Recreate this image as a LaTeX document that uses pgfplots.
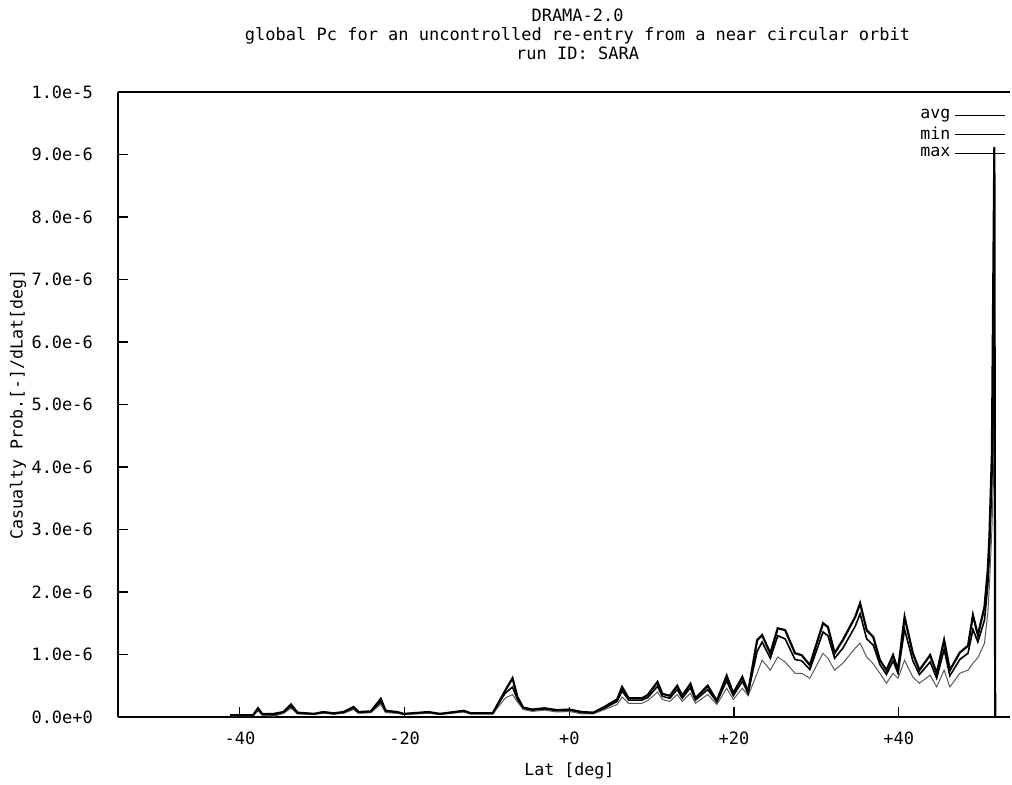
\documentclass[border=0pt]{standalone}
\usepackage{fontspec}
\setmainfont{DejaVu Sans Mono}
\usepackage{pgfplots}
\pgfplotsset{compat=1.18}

% values in units of 1e-6
\pgfplotstableread{
lat avg
-41.2 0.03
-38.4 0.03
-37.8 0.12
-37.3 0.04
-35.9 0.03
-34.7 0.07
-33.8 0.17
-33.0 0.06
-31.0 0.05
-29.9 0.07
-28.6 0.05
-27.4 0.07
-26.2 0.14
-25.6 0.07
-24.1 0.08
-22.9 0.24
-22.3 0.09
-20.9 0.07
-20.1 0.05
-17.1 0.07
-15.7 0.05
-12.8 0.09
-12.0 0.06
-9.3 0.06
-7.8 0.38
-6.9 0.48
-6.3 0.28
-5.6 0.14
-4.5 0.11
-3.0 0.13
-1.5 0.10
0.0 0.11
1.5 0.07
2.9 0.06
4.1 0.13
5.8 0.25
6.4 0.42
7.2 0.27
8.8 0.27
9.5 0.31
10.7 0.49
11.3 0.33
12.2 0.30
13.1 0.44
13.7 0.30
14.7 0.47
15.3 0.27
16.8 0.44
17.9 0.24
19.1 0.58
19.9 0.34
21.0 0.57
21.7 0.38
22.8 1.05
23.4 1.20
24.4 0.94
25.3 1.30
26.2 1.25
27.4 0.92
28.2 0.90
29.2 0.76
30.8 1.36
31.4 1.30
32.2 0.94
33.2 1.10
34.7 1.45
35.3 1.65
36.1 1.25
36.9 1.15
37.7 0.84
38.5 0.68
39.3 0.90
39.9 0.70
40.7 1.40
41.7 0.90
42.5 0.68
43.8 0.88
44.6 0.62
45.5 1.08
46.2 0.66
47.4 0.92
48.4 1.02
49.0 1.40
49.6 1.20
50.4 1.55
50.8 2.10
51.0 2.60
51.3 3.80
51.6 6.40
51.7 0.00
}\avgdata

\pgfplotstableread{
lat min
-41.2 0.02
-38.4 0.02
-37.8 0.10
-37.3 0.03
-35.9 0.01
-34.7 0.06
-33.8 0.14
-33.0 0.05
-31.0 0.04
-29.9 0.06
-28.6 0.05
-27.4 0.06
-26.2 0.12
-25.6 0.06
-24.1 0.07
-22.9 0.20
-22.3 0.07
-20.9 0.06
-20.1 0.04
-17.1 0.06
-15.7 0.04
-12.8 0.08
-12.0 0.05
-9.3 0.05
-7.8 0.30
-6.9 0.36
-6.3 0.24
-5.6 0.12
-4.5 0.09
-3.0 0.11
-1.5 0.08
0.0 0.09
1.5 0.05
2.9 0.05
4.1 0.11
5.8 0.20
6.4 0.32
7.2 0.22
8.8 0.22
9.5 0.26
10.7 0.40
11.3 0.28
12.2 0.25
13.1 0.36
13.7 0.25
14.7 0.38
15.3 0.22
16.8 0.36
17.9 0.20
19.1 0.46
19.9 0.28
21.0 0.46
21.7 0.34
22.8 0.70
23.4 0.91
24.4 0.75
25.3 0.96
26.2 0.88
27.4 0.70
28.2 0.70
29.2 0.62
30.8 1.02
31.4 0.94
32.2 0.75
33.2 0.86
34.7 1.10
35.3 1.18
36.1 0.96
36.9 0.85
37.7 0.70
38.5 0.54
39.3 0.70
39.9 0.62
40.7 0.91
41.7 0.64
42.5 0.54
43.8 0.67
44.6 0.48
45.5 0.75
46.2 0.48
47.4 0.70
48.4 0.75
49.0 0.86
49.6 0.95
50.4 1.18
50.8 1.66
51.0 2.10
51.3 3.00
51.6 4.40
51.7 0.00
}\mindata

\pgfplotstableread{
lat max
-41.2 0.03
-38.4 0.03
-37.8 0.14
-37.3 0.05
-35.9 0.05
-34.7 0.08
-33.8 0.20
-33.0 0.07
-31.0 0.05
-29.9 0.08
-28.6 0.06
-27.4 0.08
-26.2 0.16
-25.6 0.08
-24.1 0.09
-22.9 0.29
-22.3 0.10
-20.9 0.08
-20.1 0.05
-17.1 0.08
-15.7 0.05
-12.8 0.10
-12.0 0.06
-9.3 0.06
-7.8 0.42
-6.9 0.62
-6.3 0.32
-5.6 0.15
-4.5 0.12
-3.0 0.14
-1.5 0.11
0.0 0.12
1.5 0.08
2.9 0.07
4.1 0.15
5.8 0.28
6.4 0.48
7.2 0.30
8.8 0.30
9.5 0.35
10.7 0.56
11.3 0.37
12.2 0.34
13.1 0.50
13.7 0.34
14.7 0.53
15.3 0.30
16.8 0.50
17.9 0.26
19.1 0.66
19.9 0.38
21.0 0.64
21.7 0.40
22.8 1.23
23.4 1.31
24.4 1.02
25.3 1.42
26.2 1.39
27.4 1.02
28.2 0.99
29.2 0.83
30.8 1.50
31.4 1.44
32.2 1.02
33.2 1.23
34.7 1.60
35.3 1.82
36.1 1.39
36.9 1.28
37.7 0.91
38.5 0.75
39.3 0.99
39.9 0.75
40.7 1.60
41.7 1.02
42.5 0.75
43.8 0.99
44.6 0.70
45.5 1.23
46.2 0.75
47.4 1.03
48.4 1.14
49.0 1.63
49.6 1.31
50.4 1.76
50.8 2.35
51.0 2.88
51.3 4.20
51.6 9.12
51.7 0.00
}\maxdata

\begin{document}
\begin{tikzpicture}
\begin{axis}[
  scale only axis,
  width=446pt, height=312.5pt,
  xmin=-54.8, xmax=53.5,
  ymin=0, ymax=10,
  axis lines=left,
  axis line style={-, line width=0.8pt},
  tick align=inside,
  major tick length=5pt,
  tick style={black, line width=0.6pt},
  xtick={-40,-20,0,20,40},
  xticklabels={-40,-20,+0,+20,+40},
  ytick={0,1,2,3,4,5,6,7,8,9,10},
  yticklabels={0.0e+0,1.0e-6,2.0e-6,3.0e-6,4.0e-6,5.0e-6,6.0e-6,7.0e-6,8.0e-6,9.0e-6,1.0e-5},
  ticklabel style={font=\fontsize{8.5}{10}\selectfont},
  yticklabel style={xshift=-9pt},
  xticklabel style={yshift=-4pt},
  xlabel={Lat [deg]},
  ylabel={Casualty Prob.[-]/dLat[deg]},
  label style={font=\fontsize{8.3}{10}\selectfont},
  xlabel style={at={(axis cs:0,0)}, anchor=center, yshift=-27pt},
  ylabel style={at={(rel axis cs:0,0.5)}, anchor=center, yshift=50pt},
  legend style={draw=none, fill=none, at={(rel axis cs:1,1)}, anchor=north east,
    xshift=1pt, yshift=-4.5pt, font=\fontsize{8.3}{9.5}\selectfont, row sep=-1.5pt},
  legend plot pos=right,
  legend cell align=right,
  legend image code/.code={\draw[#1, black, line width=0.6pt] (0pt,0pt) -- (25pt,0pt);},
  clip=false,
]
\addplot[black, line width=0.8pt] table[x=lat, y=avg] {\avgdata};
\addlegendentry{avg}
\addplot[black!65, line width=0.5pt] table[x=lat, y=min] {\mindata};
\addlegendentry{min}
\addplot[black, line width=1.1pt] table[x=lat, y=max] {\maxdata};
\addlegendentry{max}

\draw[line width=0.8pt] (rel axis cs:0,1) -- (rel axis cs:1,1);

\node[font=\fontsize{8.5}{10}\selectfont, anchor=base] at (axis cs:1,10) [yshift=35.5pt] {DRAMA-2.0};
\node[font=\fontsize{8.5}{10}\selectfont, anchor=base] at (axis cs:1,10) [yshift=26pt] {global Pc for an uncontrolled re-entry from a near circular orbit};
\node[font=\fontsize{8.5}{10}\selectfont, anchor=base] at (axis cs:1,10) [yshift=16.5pt] {run ID: SARA};
\end{axis}
\pgfresetboundingbox
\path (0pt,0pt) ++(-59pt,-33.5pt) rectangle ++(506pt,392pt);
\end{tikzpicture}
\end{document}
